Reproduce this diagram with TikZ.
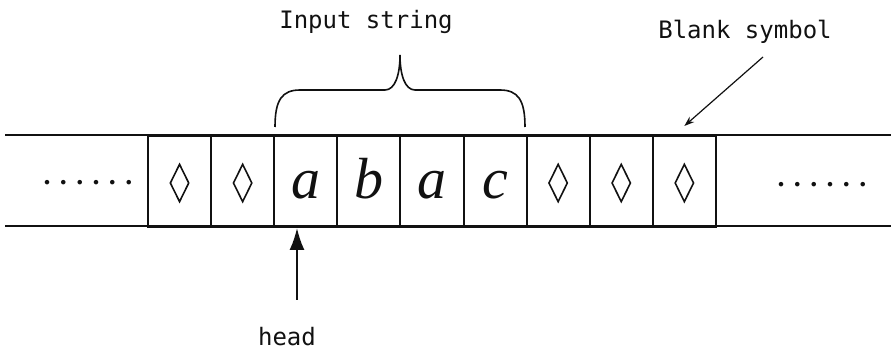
\documentclass[tikz,border=0pt]{standalone}
\usepackage{fontspec}
\setmonofont{DejaVu Sans Mono}
\newfontfamily\tapefont{Liberation Serif}
\usetikzlibrary{arrows.meta, shapes.geometric}
\definecolor{ink}{HTML}{111111}

\begin{document}
\begin{tikzpicture}[x=0.5pt, y=-0.5pt, font=\ttfamily\fontsize{12}{14}\selectfont,
    cell/.style={draw=ink, line width=1pt, anchor=north west, inner sep=0pt,
      minimum width=31.55pt, minimum height=45.5pt},
    blank/.style={diamond, draw=ink, line width=0.8pt, inner sep=0pt, aspect=0.5,
      minimum width=9.5pt, minimum height=19pt},
    letter/.style={anchor=base, text=ink, font=\tapefont\itshape\fontsize{29}{30}\selectfont},
    dots/.style={anchor=base, text=ink, font=\tapefont\bfseries\fontsize{14}{14}\selectfont},
    tape/.style={draw=ink, line width=1.4pt},
    label/.style={text=ink}]
  \useasboundingbox (0,0) rectangle (891,358);
  % cells of the tape
  \foreach \i in {1,...,9}
    \node[cell] (c\i) at ({147+63.1*(\i-1)},135) {};
  \foreach \i in {1,2,7,8,9}
    \node[blank] (b\i) at ([yshift=-0.75pt]c\i.center) {};
  \foreach \i/\l in {3/a,4/b,5/a,6/c}
    \node[letter] (s\i) at ([yshift=-8.75pt]c\i.center) {\l};
  \node[dots] (ldots) at (88,184.5) {. . . . . .};
  \node[dots] (rdots) at (822,186.5) {. . . . . .};
  % tape edges
  \coordinate (tl) at (5,135);
  \coordinate (tr) at (891,135);
  \coordinate (bl) at (5,226);
  \coordinate (br) at (891,226);
  \draw[tape] (tl) -- (tr);
  \draw[tape] (bl) -- (br);
  % input string brace
  \node[label] (input) at (366,22) {Input string};
  \coordinate (brL) at (275,127);
  \coordinate (brM) at (400,55);
  \coordinate (brR) at (525,127);
  \draw[ink, line width=0.8pt] (brL) .. controls (275,100) and (282,90) .. (300,90)
    -- (385,90) .. controls (395,90) and (400,75) .. (brM)
    .. controls (400,75) and (405,90) .. (415,90)
    -- (500,90) .. controls (518,90) and (525,100) .. (brR);
  % blank symbol
  \node[label] (blanklbl) at (745,32) {Blank symbol};
  \coordinate (bstail) at (763,57);
  \draw[ink, line width=0.6pt, -{Stealth[length=5pt, width=3.5pt]}]
    (bstail) -- ([yshift=4.5pt]c9.north);
  % head
  \node[label] (head) at (287,337) {head};
  \coordinate (headtail) at (297,300);
  \draw[ink, line width=1pt, -{Latex[length=11pt, width=7.5pt]}]
    (headtail) -- (headtail |- c3.south);
\end{tikzpicture}
\end{document}
